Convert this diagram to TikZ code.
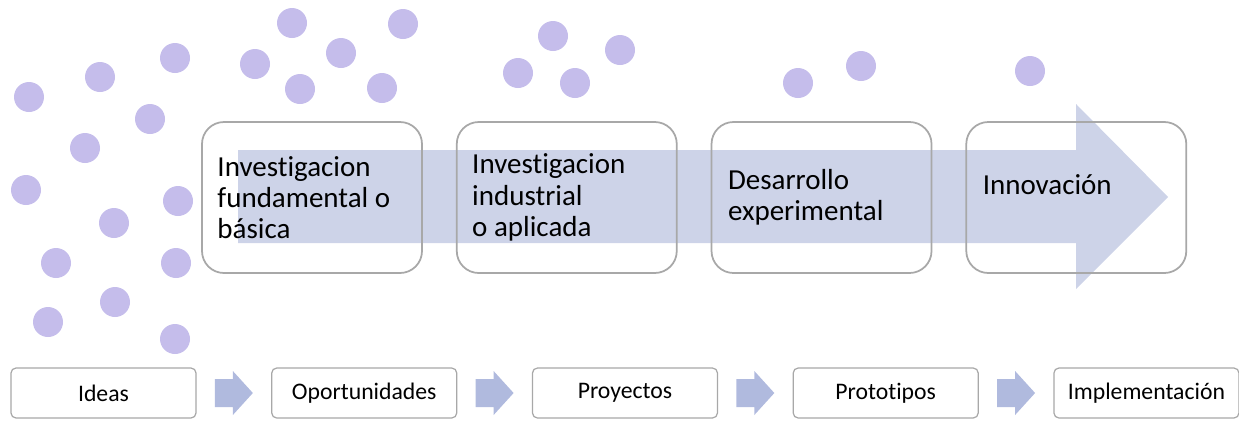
\documentclass[tikz,border=0pt]{standalone}
\usepackage{fontspec}
\setmainfont{Carlito}[Ligatures=NoCommon]
\usetikzlibrary{positioning, calc}
\definecolor{lila}{RGB}{197,189,235}
\definecolor{azul}{RGB}{205,211,232}
\definecolor{azulito}{RGB}{176,186,222}
\definecolor{borde}{RGB}{168,168,168}
\tikzset{
    % node styles
    etapa/.style = {draw=borde, line width=1pt, rounded corners=4.4mm, minimum width=44mm, minimum height=30.2mm},
    paso/.style = {draw=borde, line width=0.7pt, rounded corners=1mm, minimum width=37mm, minimum height=10mm, font=\fontsize{13.5}{15}\selectfont},
    texto/.style = {anchor=west, align=left, inner sep=0pt, font=\fontsize{16.5}{17.8}\selectfont},
    % fill styles
    punto/.style = {fill=lila},
    flecha/.style = {fill=azul},
    flechita/.style = {fill=azulito}
}

\begin{document}
\begin{tikzpicture}[x=0.2mm, y=-0.2mm, node distance=6.6mm]
        \useasboundingbox (0,0) rectangle (1239,420);

        % big arrow behind the stages
        \fill[flecha] (238,150) -- (1076,150) -- (1076,104) -- (1168,197)
            -- (1076,289) -- (1076,243) -- (238,243) -- cycle;

        % scattered ideas
        \foreach \x/\y in {292/23, 403/24, 175/58, 255/64, 341/53, 100/77, 29/97,
            300/89, 382/88, 150/119, 85/148, 26/190, 178/201, 114/223, 56/263,
            176/263, 115/302, 48/322, 175/339, 553/36, 620/50, 518/73, 575/83,
            798/83, 861/66, 1030/71}
            \fill[punto] (\x,\y) circle (3mm);

        % stages
        \node[etapa] (e1) at (312,197.5) {};
        \node[etapa] (e2) [right=of e1] {};
        \node[etapa] (e3) [right=of e2] {};
        \node[etapa] (e4) [right=of e3] {};

        \node[texto] (t1) at ([xshift=3.2mm]e1.west) {Investigacion\\fundamental o\\básica};
        \node[texto] (t2) at ([xshift=3.2mm]e2.west) {Investigacion\\industrial\\o aplicada};
        \node[texto] (t3) at ([xshift=3.4mm]e3.west) {Desarrollo\\experimental};
        \node[texto] (t4) at ([xshift=3.4mm, yshift=2.5mm]e4.west) {Innovación};

        % bottom chain
        \node[paso] (p1) at (103.5,393) {Ideas};
        \node[paso] (p2) [right=14.9mm of p1] {Oportunidades};
        \node[paso] (p3) [right=14.9mm of p2] {Proyectos};
        \node[paso] (p4) [right=14.9mm of p3] {Prototipos};
        \node[paso] (p5) [right=14.9mm of p4] {Implementación};

        \foreach \a/\b in {p1/p2, p2/p3, p3/p4, p4/p5}
            \fill[flechita] ($(\a.east)!0.5!(\b.west)$) ++(-19,-14) -- ++(18,0) -- ++(0,-8)
                -- ++(20,22) -- ++(-20,22) -- ++(0,-8) -- ++(-18,0) -- cycle;

\end{tikzpicture}
\end{document}
